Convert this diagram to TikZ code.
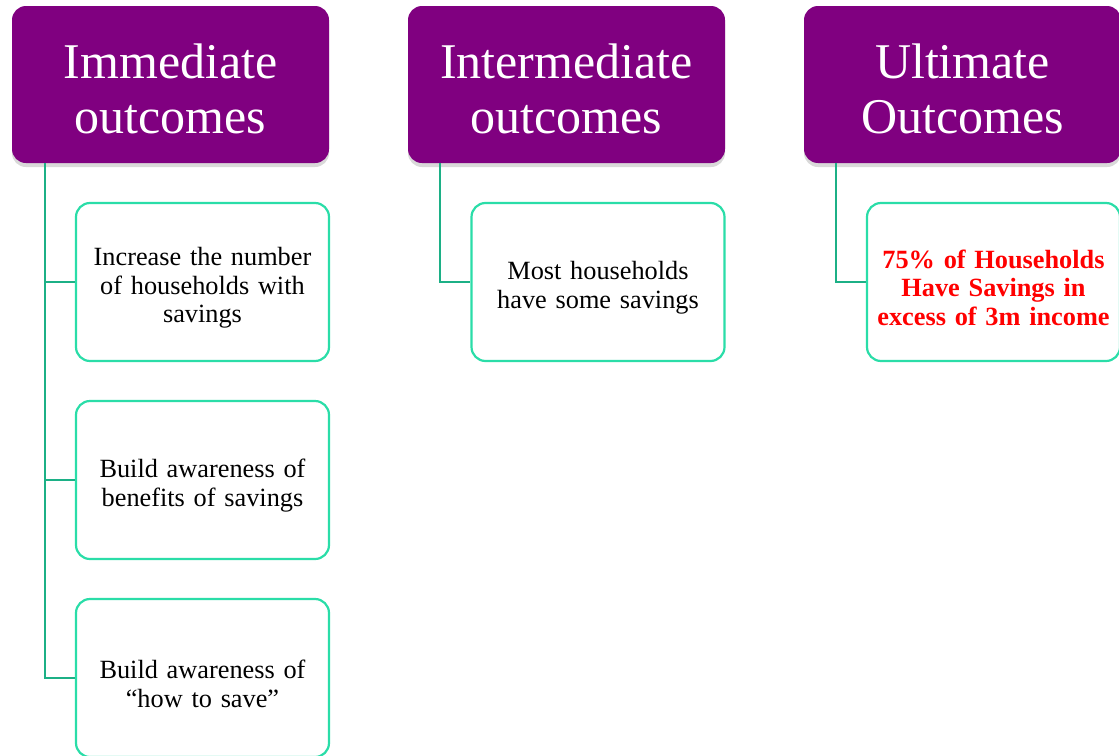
\documentclass[tikz,border=0pt]{standalone}
\usepackage{fontspec}
\setmainfont{Liberation Serif}
\usepackage{tikz}
\usetikzlibrary{shadows}
\definecolor{hdrpurple}{HTML}{800080}
\definecolor{boxgreen}{HTML}{2ADDA8}
\definecolor{linkgreen}{HTML}{1CB086}
\tikzset{
  hdr/.style = {rectangle, rounded corners=14pt, fill=hdrpurple, text=white,
    minimum width=317pt, minimum height=157pt, inner sep=0pt,
    text width=300pt, align=center, font=\fontsize{50}{55}\selectfont,
    execute at begin node={\rule{0pt}{44pt}},% pousse le texte vers le bas
    drop shadow={opacity=0.3, shadow xshift=0pt, shadow yshift=-4pt}},% en-tete
  outc/.style = {rectangle, rounded corners=14pt, draw=boxgreen, line width=2.2pt,
    fill=white, minimum width=253pt, minimum height=158pt, inner sep=0pt,
    text width=248pt, align=center, font=\fontsize{26.3}{28.5}\selectfont,
    execute at begin node={\rule{0pt}{30pt}}},% resultat
  goal/.style = {outc, text=red, font=\fontsize{26.3}{28.5}\selectfont\bfseries},
  link/.style = {draw=linkgreen, line width=1.8pt}
}
\begin{document}
\begin{tikzpicture}[x=1pt, y=-1pt]
\useasboundingbox (0,0) rectangle (1119,755);
\clip (0,0) rectangle (1119,755);

\node [hdr] (imm) at (170.5,84.5) {Immediate\\outcomes};
\node [hdr] (inter) at (566.5,84.5) {Intermediate\\outcomes};
\node [hdr] (ult) at (962.5,84.5) {Ultimate\\Outcomes};

\node [outc] (imm1) at (202.5,282) {Increase the number\\of households with\\savings};
\node [outc] (imm2) at (202.5,480) {Build awareness of\\benefits of savings};
\node [outc] (imm3) at (202.5,678) {Build awareness of\\``how to save''};
\node [outc] (inter1) at (598,282) {Most households\\have some savings};
\node [goal] (ult1) at (993.5,282) {75\% of Households\\Have Savings in\\excess of 3m income};

\draw [link] ([xshift=33pt]imm.south west) |- (imm3.west);
\draw [link] ([xshift=33pt]imm.south west) |- (imm1.west);
\draw [link] ([xshift=33pt]imm.south west) |- (imm2.west);
\draw [link] ([xshift=32pt]inter.south west) |- (inter1.west);
\draw [link] ([xshift=32pt]ult.south west) |- (ult1.west);
\end{tikzpicture}
\end{document}
